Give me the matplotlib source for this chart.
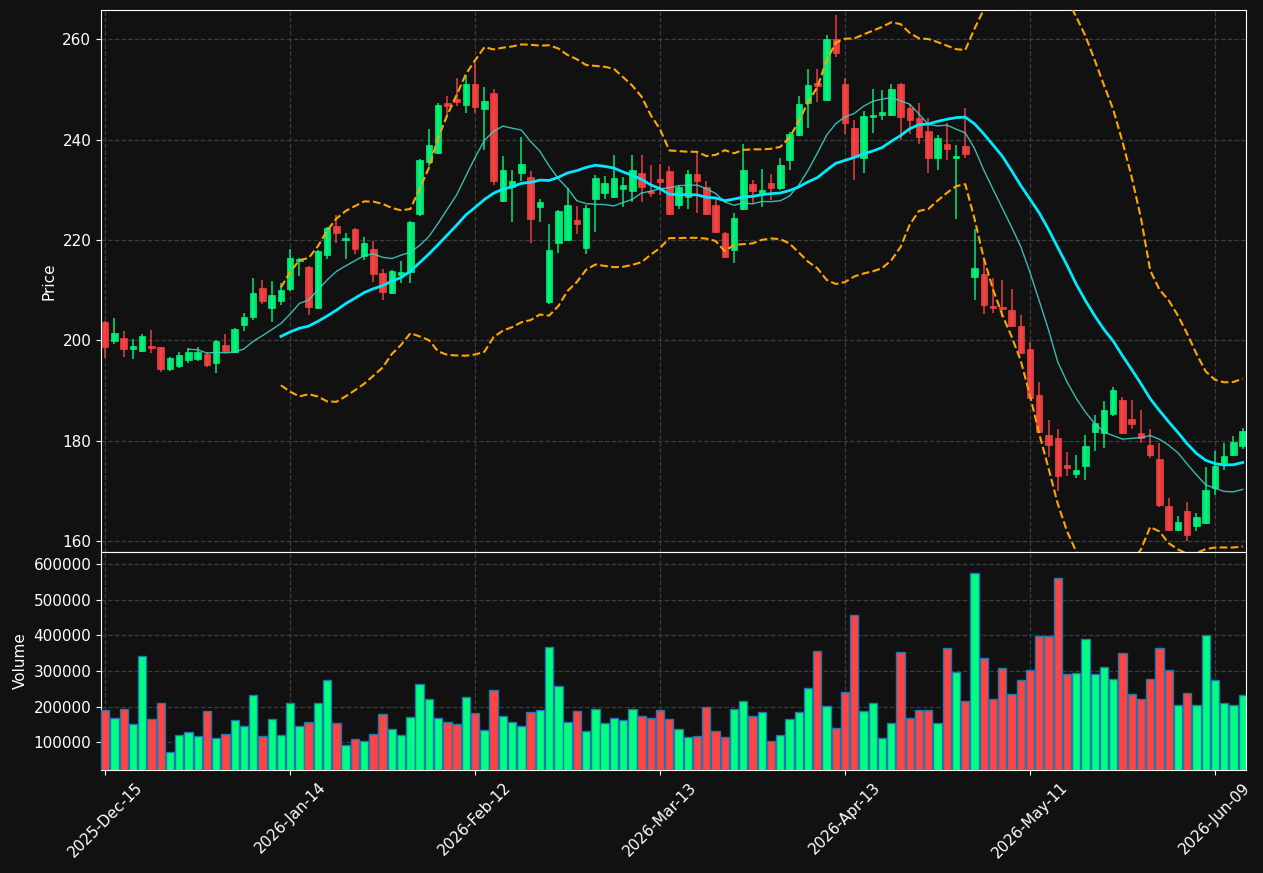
import numpy as np
import pandas as pd
import matplotlib
matplotlib.use('Agg')
import matplotlib.pyplot as plt

# 行情資料
opens = [203.7, 199.9, 200.4, 198.3, 197.9, 198.8, 198.6, 194.3, 194.9, 196.1,
         196.3, 197.3, 195.5, 199.0, 197.6, 203.0, 204.7, 210.5, 206.5, 207.9,
         210.2, 215.8, 214.6, 206.5, 217.0, 222.8, 219.9, 222.1, 216.8, 218.2,
         213.4, 209.4, 212.9, 213.6, 225.1, 235.6, 237.4, 247.3, 248.0, 246.9,
         251.0, 246.1, 249.3, 227.8, 230.6, 233.4, 232.5, 226.6, 207.6, 219.4,
         220.0, 223.9, 218.4, 228.1, 229.3, 228.6, 230.1, 229.8, 233.4, 229.8,
         232.1, 233.7, 226.9, 228.6, 233.1, 230.6, 226.9, 221.4, 218.0, 226.1,
         231.1, 229.4, 231.3, 230.3, 235.9, 240.9, 247.3, 251.2, 247.8, 260.0,
         251.0, 242.3, 236.4, 244.5, 244.9, 244.9, 251.0, 246.3, 244.3, 241.7,
         236.4, 239.2, 236.4, 238.7, 212.6, 213.2, 206.9, 206.7, 206.0, 202.8,
         198.2, 189.1, 181.1, 180.6, 175.1, 173.4, 175.0, 181.8, 181.6, 185.3,
         188.1, 184.3, 181.5, 179.1, 176.3, 167.0, 162.1, 166.0, 162.9, 163.5,
         170.5, 175.5, 177.1, 179.0]
highs = [203.8, 204.4, 201.8, 200.2, 201.2, 202.0, 198.7, 196.6, 197.6, 198.4,
         198.7, 197.6, 200.0, 201.2, 202.5, 205.4, 212.4, 212.0, 211.9, 211.5,
         218.1, 216.4, 214.8, 218.0, 222.6, 224.9, 221.3, 222.3, 220.5, 219.8,
         214.1, 214.0, 215.8, 223.8, 236.2, 242.0, 247.3, 248.6, 252.2, 252.8,
         255.2, 250.4, 250.0, 236.8, 234.0, 240.5, 233.7, 228.1, 223.1, 226.0,
         230.3, 226.7, 226.9, 232.9, 232.8, 236.9, 232.6, 236.9, 237.0, 234.9,
         235.2, 234.8, 230.9, 234.0, 237.6, 231.8, 228.3, 221.6, 225.4, 239.2,
         232.0, 234.2, 233.2, 236.4, 241.4, 248.6, 254.0, 254.0, 260.8, 264.8,
         252.3, 243.9, 245.7, 250.0, 249.8, 251.0, 251.2, 247.1, 247.2, 244.3,
         240.8, 243.2, 239.0, 246.2, 222.1, 216.3, 212.5, 212.1, 210.3, 205.0,
         199.7, 191.7, 184.2, 182.4, 177.7, 177.1, 181.1, 185.1, 187.8, 190.6,
         188.6, 188.1, 186.1, 182.4, 179.6, 168.5, 165.0, 167.7, 165.5, 174.7,
         178.0, 179.6, 180.9, 182.6]
lows = [196.5, 199.2, 196.6, 196.2, 197.7, 197.4, 193.7, 193.9, 194.4, 195.5,
        195.9, 194.6, 193.5, 197.5, 197.4, 201.9, 204.0, 207.2, 203.6, 207.0,
        209.8, 212.8, 205.0, 206.2, 216.1, 219.3, 216.1, 217.2, 216.0, 211.7,
        208.1, 209.3, 211.5, 211.5, 224.8, 234.7, 237.2, 244.7, 246.7, 245.2,
        245.2, 237.9, 230.9, 227.5, 223.5, 231.8, 219.4, 223.5, 207.3, 217.4,
        219.8, 221.2, 217.2, 221.5, 228.1, 228.4, 226.6, 227.6, 227.6, 228.5,
        228.9, 224.9, 226.1, 226.1, 225.3, 224.9, 221.3, 216.4, 215.3, 225.9,
        227.3, 226.6, 227.9, 230.0, 233.9, 240.7, 242.2, 247.5, 247.6, 256.5,
        241.1, 231.9, 233.4, 241.2, 243.9, 244.7, 240.0, 241.1, 239.2, 233.4,
        233.9, 235.9, 224.1, 236.4, 208.0, 205.2, 205.4, 204.6, 202.7, 197.2,
        188.3, 181.5, 176.8, 170.0, 173.0, 172.5, 172.2, 178.0, 178.5, 185.0,
        181.4, 182.4, 179.5, 176.5, 166.8, 162.0, 161.9, 160.0, 161.9, 163.3,
        169.2, 174.1, 176.9, 178.3]
closes = [198.7, 201.5, 198.3, 198.8, 200.8, 198.4, 194.3, 196.5, 197.1, 197.6,
          197.6, 195.1, 199.8, 197.8, 202.2, 204.6, 209.4, 207.9, 209.0, 210.0,
          216.4, 216.2, 206.7, 217.8, 222.3, 221.4, 220.4, 218.2, 219.4, 213.2,
          209.6, 213.8, 213.5, 223.6, 235.9, 238.9, 246.9, 246.7, 247.5, 251.0,
          246.5, 247.6, 231.8, 233.9, 231.8, 235.1, 224.1, 227.5, 218.0, 225.7,
          226.9, 223.1, 226.3, 232.4, 231.3, 232.4, 230.9, 233.9, 230.6, 229.3,
          231.6, 225.1, 230.6, 233.1, 231.7, 225.1, 221.6, 216.6, 224.3, 233.9,
          229.7, 229.9, 230.3, 234.9, 241.1, 247.1, 250.8, 250.6, 260.1, 257.2,
          243.2, 236.6, 244.7, 244.7, 245.5, 250.0, 244.5, 243.9, 240.5, 236.4,
          240.3, 238.2, 236.8, 237.1, 214.4, 207.0, 206.4, 206.3, 202.9, 197.4,
          188.5, 181.8, 179.1, 173.0, 174.6, 174.1, 178.9, 183.6, 186.1, 190.1,
          181.6, 183.4, 180.5, 177.1, 167.2, 162.2, 163.8, 161.1, 164.7, 170.2,
          175.0, 176.9, 179.7, 181.9]
volumes = [189500, 166900, 192300, 150900, 342000, 165000, 209200, 70800, 118800, 127300,
           116000, 186600, 110400, 121700, 161200, 144300, 231800, 116000, 164000, 118800,
           209200, 144300, 155600, 209200, 274200, 152700, 90600, 107500, 101900, 121700,
           178200, 135800, 118800, 169700, 262900, 220500, 166900, 155600, 149900, 226200,
           181000, 133000, 246000, 172500, 155600, 144300, 183800, 189500, 367400, 257300,
           155600, 186600, 130100, 192300, 152700, 166900, 161200, 192300, 172500, 166900,
           189500, 164000, 136700, 114100, 117000, 198900, 131100, 114100, 193200, 215800,
           173500, 184800, 102800, 119800, 165000, 184800, 252600, 357100, 201700, 139600,
           241300, 458800, 187600, 210200, 111300, 153700, 354200, 167800, 190400, 190400,
           153700, 365500, 297700, 215800, 577400, 337300, 221500, 309000, 235600, 275100,
           303400, 399400, 399400, 563300, 292100, 294900, 391000, 292100, 311900, 278000,
           351400, 235600, 221500, 278000, 365500, 303400, 204500, 238400, 204500, 402300,
           275100, 210200, 204500, 232800]

# 交易日 (排除美股假日)
holidays = ['2025-12-25', '2026-01-01', '2026-01-19', '2026-02-16', '2026-04-03', '2026-05-25']
dates = pd.bdate_range('2025-12-15', periods=len(closes), freq='C', holidays=holidays)

BG = '#111111'
UP = '#00ff80'
DOWN = '#ff4444'

df = pd.DataFrame({'Open': opens, 'High': highs, 'Low': lows,
                   'Close': closes, 'Volume': volumes}, index=dates)
df['MA10'] = df['Close'].rolling(10).mean()
df['MA20'] = df['Close'].rolling(20).mean()
std20 = df['Close'].rolling(20).std()
df['BB_up'] = df['MA20'] + 2 * std20
df['BB_dn'] = df['MA20'] - 2 * std20

x = np.arange(len(df))
up = df['Close'] >= df['Open']
colors = np.where(up, UP, DOWN)

fig = plt.figure(figsize=(12.63, 8.73), dpi=100, facecolor=BG)
ax = fig.add_axes([0.080, 0.3677, 0.9065, 0.6208])
axv = fig.add_axes([0.080, 0.1180, 0.9065, 0.2497], sharex=ax)

for a in (ax, axv):
    a.set_facecolor(BG)
    for s in a.spines.values():
        s.set_color('white')
    a.tick_params(colors='white', labelsize=11)
    a.grid(True, linestyle='--', color='#3c3c3c', linewidth=0.9)
    a.set_axisbelow(True)

# 蠟燭
body_bot = np.minimum(df['Open'], df['Close'])
body_h = np.maximum(np.abs(df['Close'] - df['Open']), 0.3)
ax.vlines(x, df['Low'], df['High'], colors=colors, linewidth=1.1, alpha=0.9, zorder=2)
ax.bar(x, body_h, bottom=body_bot, width=0.7, color=colors, edgecolor=colors,
       linewidth=0.5, alpha=0.9, zorder=3)

# 均線與布林通道
ax.plot(x, df['MA10'], color='#40d8cc', linewidth=1.0, alpha=0.85, zorder=4)
ax.plot(x, df['MA20'], color='#00eaff', linewidth=2.0, zorder=4)
ax.plot(x, df['BB_up'], color='orange', linestyle='--', linewidth=1.5, zorder=4)
ax.plot(x, df['BB_dn'], color='orange', linestyle='--', linewidth=1.5, zorder=4)

ax.set_ylim(157.8, 265.8)
ax.set_yticks([160, 180, 200, 220, 240, 260])
ax.set_ylabel('Price', color='white', fontsize=11)
ax.tick_params(axis='x', labelbottom=False, length=0)

# 成交量
axv.bar(x, df['Volume'], width=0.9, color=colors, edgecolor='#1f77b4', linewidth=1.0, zorder=3)
axv.set_ylim(0.3 * df['Volume'].min(), 1.1 * df['Volume'].max())
axv.set_yticks([100000, 200000, 300000, 400000, 500000, 600000])
axv.set_yticklabels(['100000', '200000', '300000', '400000', '500000', '600000'])
axv.set_ylabel('Volume', color='white', fontsize=11)

tick_pos = x[::20]
axv.set_xticks(tick_pos)
axv.set_xticklabels([d.strftime('%Y-%b-%d') for d in dates[::20]], rotation=45, ha='center')
axv.set_xlim(-0.45, len(df) - 0.65)

plt.savefig('out.png', dpi=100, facecolor=BG)
plt.close()
